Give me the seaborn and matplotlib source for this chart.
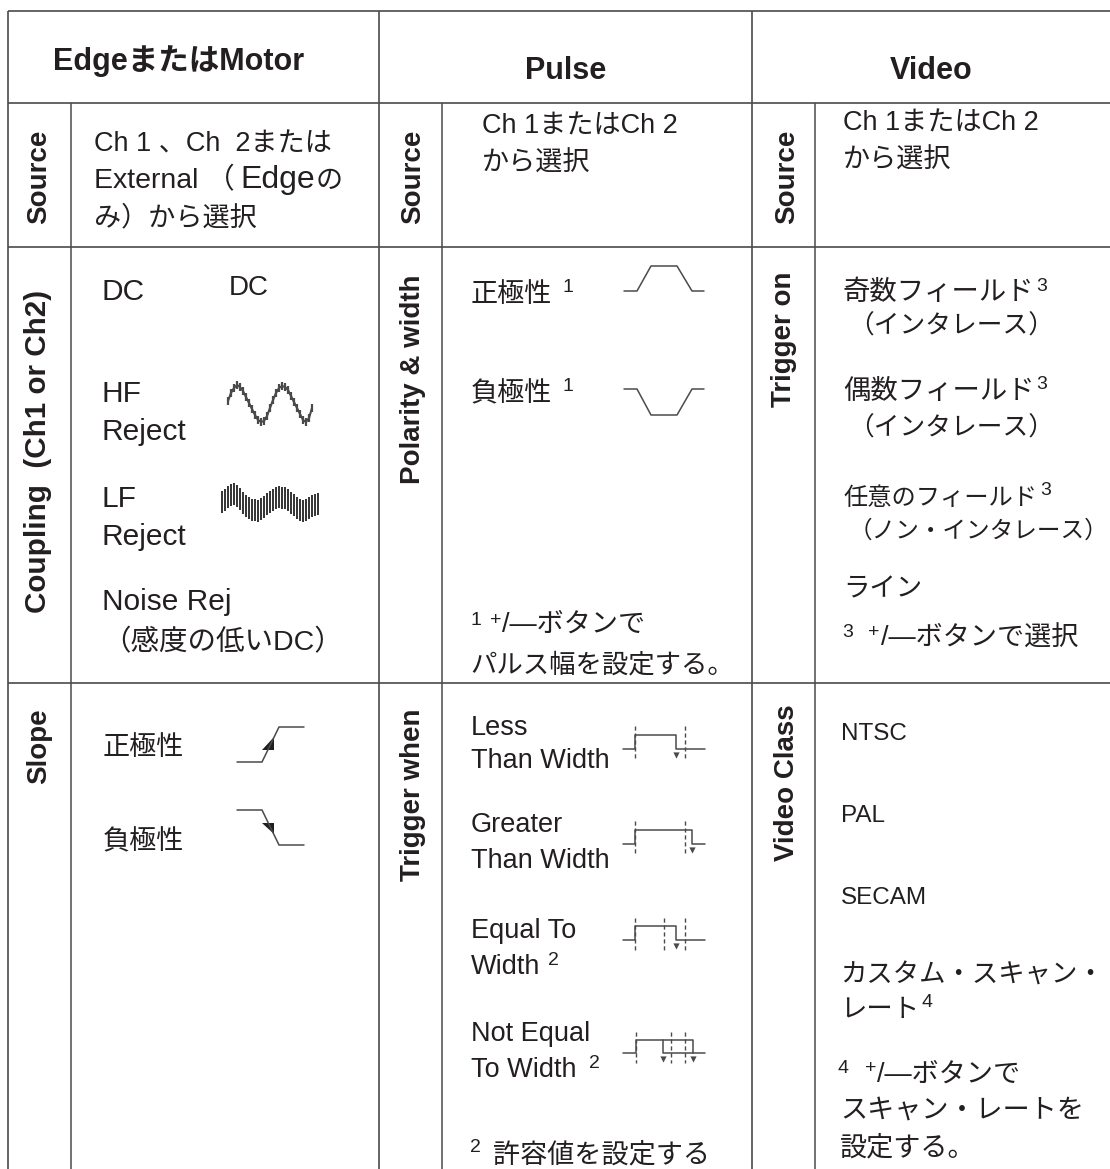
import matplotlib
matplotlib.use("Agg")
import matplotlib.pyplot as plt
import seaborn as sns

# Table text
headers = ["EdgeまたはMotor", "Pulse", "Video"]
edge_source = ["Ch 1 、Ch  2または", "External （", "Edge", "の", "み）から選択"]
pv_source = ["Ch 1またはCh 2", "から選択"]
coupling_lines = ["DC", "HF", "Reject", "LF", "Reject", "Noise Rej", "（感度の低いDC）"]
slope_lines = ["正極性", "負極性"]
polarity_lines = ["正極性", "負極性"]
pulse_note1 = ["/—ボタンで", "パルス幅を設定する。"]
when_lines = ["Less", "Than Width", "Greater", "Than Width", "Equal To", "Width", "Not Equal", "To Width"]
pulse_note2 = "許容値を設定する"
trigger_fields = ["奇数フィールド", "偶数フィールド", "任意のフィールド"]
trigger_modes = ["（インタレース）", "（インタレース）", "（ノン・インタレース）"]
trigger_line = "ライン"
trigger_note = "/—ボタンで選択"
class_lines = ["NTSC", "PAL", "SECAM"]
custom_lines = ["カスタム・スキャン・", "レート"]
custom_note = ["/—ボタンで", "スキャン・レートを", "設定する。"]

# Waveform traces
hf_x = [228, 231, 234, 237, 240, 243, 246, 249, 252, 255, 258, 261, 264, 267, 270,
        273, 276, 279, 282, 285, 288, 291, 294, 297, 300, 303, 306, 309, 312]
hf_y = [401, 393, 388, 385, 387, 391, 397, 403, 409, 415, 420, 422, 421, 416, 408,
        400, 393, 388, 386, 387, 390, 396, 402, 408, 414, 420, 422, 418, 408]
lf_x = [222, 225, 228, 231, 234, 237, 240, 243, 246, 249, 252, 255, 258, 261, 264, 267, 270,
        273, 276, 279, 282, 285, 288, 291, 294, 297, 300, 303, 306, 309, 312, 315, 318]
lf_y = [502, 500, 497, 495, 494, 496, 499, 503, 506, 508, 510, 510, 511, 509, 507, 504, 502,
        500, 498, 497, 498, 498, 500, 503, 505, 508, 510, 511, 510, 508, 506, 505, 504]
rise_x = [237, 262, 279, 304]
rise_y = [762, 762, 727, 727]
fall_x = [237, 262, 279, 304]
fall_y = [810, 810, 845, 845]
pos_x = [624, 637, 651, 677, 692, 704]
pos_y = [291, 291, 266, 266, 291, 291]
neg_x = [624, 637, 651, 677, 692, 704]
neg_y = [389, 389, 415, 415, 389, 389]
less_x = [623, 635, 635, 676, 676, 705]
less_y = [749, 749, 735, 735, 749, 749]
greater_x = [623, 635, 635, 692, 692, 705]
greater_y = [844, 844, 830, 830, 844, 844]
equal_x = [623, 635, 635, 676, 676, 705]
equal_y = [940, 940, 926, 926, 940, 940]
noteq_x = [623, 636, 636, 693, 693, 705]
noteq_y = [1053, 1053, 1040, 1040, 1053, 1053]
noteq_inner_x = [663, 663, 693]
noteq_inner_y = [1040, 1053, 1053]

sns.set_theme(style="white")
plt.rcParams['font.family'] = ['Liberation Sans', 'Noto Sans CJK JP', 'DejaVu Sans']

INK = "#231f20"
RULE = "#4a4a4a"

fig, ax = plt.subplots(figsize=(11.1, 11.69), dpi=100)
fig.subplots_adjust(0, 0, 1, 1)
ax.set_xlim(0, 1110)
ax.set_ylim(1169, 0)
ax.axis("off")


def put(x, y, s, size=19.5, weight="normal", **kw):
    ax.text(x, y, s, fontsize=size, color=INK, weight=weight, ha="left", va="baseline", **kw)


def side(x, y, s, size=20):
    ax.text(x, y, s, fontsize=size, color=INK, weight="bold", rotation=90,
            ha="center", va="baseline", rotation_mode="anchor")


def trace(xs, ys, lw=1.1):
    sns.lineplot(x=xs, y=ys, ax=ax, color=RULE, linewidth=lw, estimator=None,
                 sort=False, legend=False)


# Table rules
ax.vlines([8, 378.5, 752], 11, 1169, color=RULE, lw=1.2)
ax.vlines([71, 442, 815], 102.5, 1169, color=RULE, lw=1.1)
ax.hlines([11, 102.5, 246.5, 682.5], 8, 1110, color=RULE, lw=1.2)

# Column headers
ax.text(179, 70, headers[0], fontsize=22, weight="bold", color=INK, ha="center", va="baseline")
ax.text(566, 79, headers[1], fontsize=22, weight="bold", color=INK, ha="center", va="baseline")
ax.text(931, 79, headers[2], fontsize=22, weight="bold", color=INK, ha="center", va="baseline")

# Rotated row labels
for x, y, s in [(46, 177, "Source"), (420, 177, "Source"), (794, 177, "Source"),
                (420, 379, "Polarity & width"), (791, 339, "Trigger on"), (46, 746, "Slope"),
                (420, 795, "Trigger when"), (794, 783, "Video Class")]:
    side(x, y, s)
side(46, 451, "Coupling  (Ch1 or Ch2)", size=21.3)

# Source row
put(94, 151, edge_source[0])
put(94, 188, edge_source[1], size=20.5)
put(240, 188, edge_source[2], size=23)
put(316, 188, edge_source[3])
put(94, 225, edge_source[4])
for s, y in zip(pv_source, [134, 171]):
    put(482, y, s)
for s, y in zip(pv_source, [131, 168]):
    put(843, y, s)

# Coupling column
for s, y in zip(coupling_lines[:6], [300, 402, 440, 507, 545, 610]):
    put(102, y, s, size=21.5)
put(102, 650, coupling_lines[6], size=20.5)
put(229, 295, "DC", size=20, family=['Liberation Sans Narrow', 'Liberation Sans'])
trace(hf_x, hf_y, lw=1.5)
ax.vlines(hf_x, [v - 4 for v in hf_y], [v + 4 for v in hf_y], color=RULE, lw=1.6)
ax.vlines(lf_x, [v - 11 for v in lf_y], [v + 11 for v in lf_y], color="#333333", lw=1.4)

# Slope column
for s, y in zip(slope_lines, [755, 849]):
    put(103, y, s)
trace(rise_x, rise_y)
trace(fall_x, fall_y)
ax.fill([274, 262, 274], [737, 750, 750], color=INK, lw=0)
ax.fill([262, 274, 274], [823, 823, 834], color=INK, lw=0)

# Polarity column
for s, y in zip(polarity_lines, [302, 401]):
    put(471, y, s)
put(562, 292, "1", size=14)
put(562, 391, "1", size=14)
trace(pos_x, pos_y)
trace(neg_x, neg_y)
put(471, 625, "1", size=14)
put(490, 625, "+", size=14)
put(502, 632, pulse_note1[0])
put(470, 672, pulse_note1[1], size=19)

# Trigger when column
for s, y in zip(when_lines, [735, 768, 832, 868, 938, 974, 1041, 1077]):
    put(471, y, s)
put(548, 965, "2", size=14)
put(589, 1068, "2", size=14)
put(470, 1152, "2", size=14)
put(493, 1162, pulse_note2)

dash = (0, (3, 2))
trace(less_x, less_y)
ax.vlines([635, 685], 726, 758, color=RULE, lw=1.0, linestyles=[dash])
trace(greater_x, greater_y)
ax.vlines([635, 685], 821, 853, color=RULE, lw=1.0, linestyles=[dash])
trace(equal_x, equal_y)
ax.vlines([635, 664, 685], 918, 950, color=RULE, lw=1.0, linestyles=[dash])
trace(noteq_x, noteq_y)
trace(noteq_inner_x, noteq_inner_y)
ax.vlines([636, 671, 685], 1032, 1063, color=RULE, lw=1.0, linestyles=[dash])
sns.scatterplot(x=[676, 692, 676, 663, 693], y=[755, 850, 946, 1059, 1059], ax=ax,
                marker="v", s=20, color=RULE, linewidth=0, legend=False)

# Trigger on column
put(843, 300, trigger_fields[0], size=19.7)
put(843, 399, trigger_fields[1], size=19.7)
put(843, 505, trigger_fields[2], size=17.5)
put(848, 334, trigger_modes[0], size=18.5)
put(848, 436, trigger_modes[1], size=18.5)
put(849, 538, trigger_modes[2], size=17)
put(843, 597, trigger_line, size=19)
put(1036, 291, "3", size=14)
put(1036, 389, "3", size=14)
put(1040, 495, "3", size=14)
put(842, 637, "3", size=14)
put(868, 637, "+", size=14)
put(881, 646, trigger_note)

# Video class column
for s, y in zip(class_lines, [740, 822, 904]):
    put(841, y, s, size=17.5)
for s, y in zip(custom_lines, [983, 1017]):
    put(840, y, s, size=19)
put(921, 1007, "4", size=14)
put(838, 1073, "4", size=14)
put(865, 1073, "+", size=14)
put(877, 1082, custom_note[0])
put(840, 1118, custom_note[1], size=19.5)
put(840, 1155, custom_note[2], size=19.5)

plt.savefig("out.png", dpi=100)
